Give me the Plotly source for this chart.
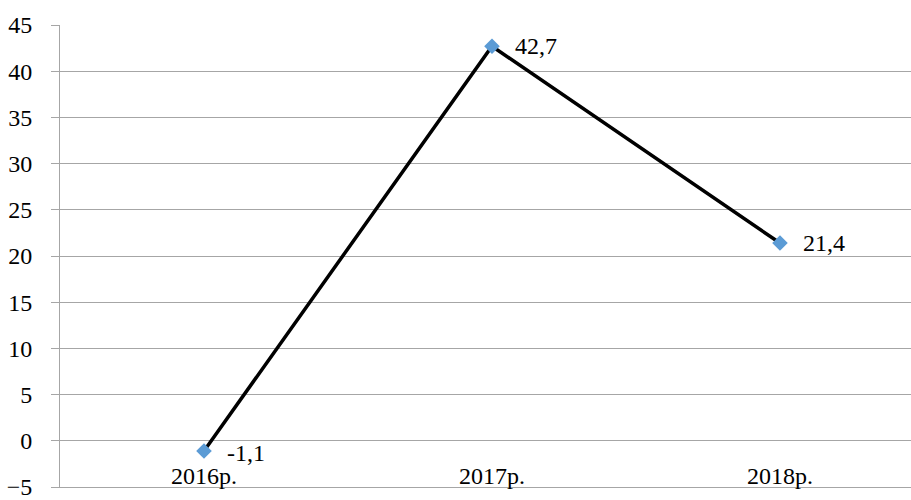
import plotly.graph_objects as go

categories = ["2016р.", "2017р.", "2018р."]
values = [-1.1, 42.7, 21.4]
value_labels = ["-1,1", "42,7", "21,4"]
y_ticks = [-5, 0, 5, 10, 15, 20, 25, 30, 35, 40, 45]

FONT = "Liberation Serif"
GRID = "#A6A6A6"

xs = list(range(len(categories)))

fig = go.Figure()
fig.add_trace(go.Scatter(
    x=xs, y=values, mode="lines+markers",
    line=dict(color="black", width=3.5),
    marker=dict(symbol="diamond", size=12, color="#5B9BD5",
                line=dict(width=0)),
    hoverinfo="skip", showlegend=False,
))
# invisible trace on the second x axis so the bottom border is drawn
fig.add_trace(go.Scatter(
    x=[xs[0]], y=[values[0]], xaxis="x2", mode="markers",
    marker=dict(opacity=0), hoverinfo="skip", showlegend=False,
))

for x, v, t in zip(xs, values, value_labels):
    fig.add_annotation(x=x, y=v, text=t, showarrow=False,
                       xanchor="left", yanchor="middle", xshift=21,
                       yshift=-2 if v < 0 else 0,
                       font=dict(family=FONT, size=24, color="black"))

fig.update_layout(
    width=911, height=500,
    margin=dict(l=60, r=0, t=25, b=11),
    paper_bgcolor="white", plot_bgcolor="white",
    font=dict(family=FONT, size=24, color="black"),
    xaxis=dict(
        range=[-0.5, 2.455], tickmode="array", tickvals=xs, ticktext=categories,
        showgrid=False, zeroline=False, showline=False, ticks="",
        anchor="free", position=0.1, ticklabelstandoff=18,
        tickfont=dict(family=FONT, size=24, color="black"),
    ),
    xaxis2=dict(
        range=[-0.5, 2.455], overlaying="x", anchor="y", side="bottom",
        showgrid=False, zeroline=False, showline=True, linecolor=GRID,
        linewidth=1, ticks="", showticklabels=False,
    ),
    yaxis=dict(
        range=[-5, 45], tickmode="array", tickvals=y_ticks,
        showgrid=True, gridcolor=GRID, gridwidth=1,
        zeroline=False, showline=True, linecolor=GRID, linewidth=1,
        ticks="outside", ticklen=8, tickcolor=GRID, tickwidth=1,
        ticklabelstandoff=14, ticklabeloverflow="allow",
        tickfont=dict(family=FONT, size=24, color="black"),
    ),
)

fig.write_html("out.html", config={"displayModeBar": False},
               post_script="document.body.style.margin='0px';document.body.style.overflow='hidden';")
